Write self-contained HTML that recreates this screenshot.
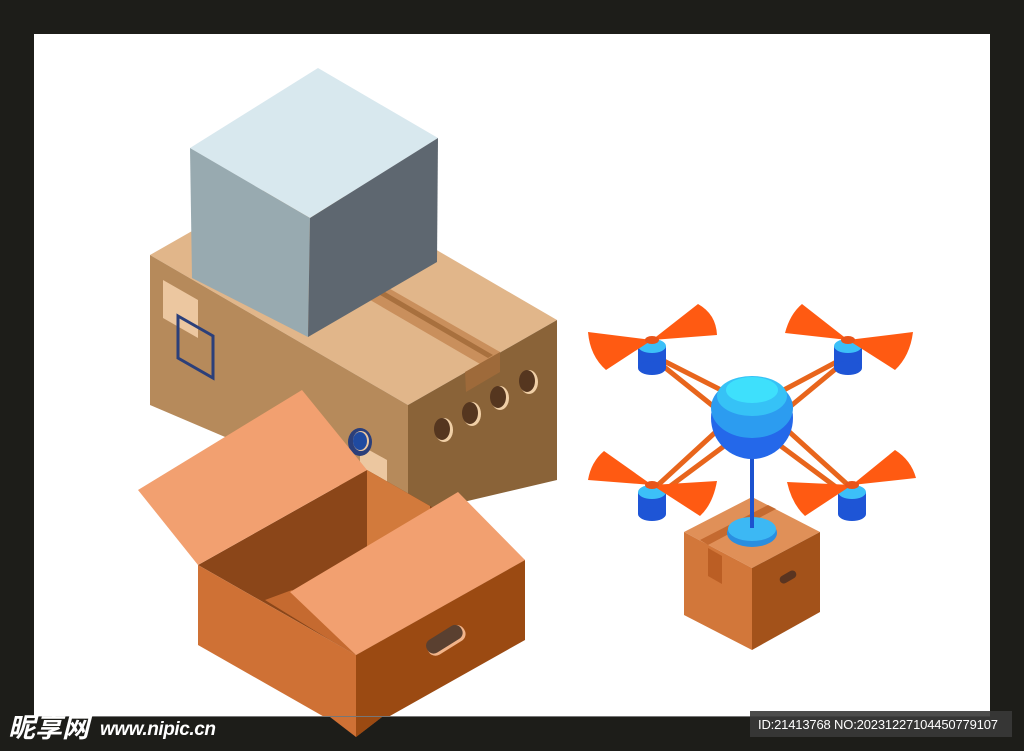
<!DOCTYPE html>
<html><head><meta charset="utf-8"><style>
html,body{margin:0;padding:0;background:#1d1d19;width:1024px;height:751px;overflow:hidden}
svg{display:block}
</style></head><body>
<svg width="1024" height="751" viewBox="0 0 1024 751" xmlns="http://www.w3.org/2000/svg">
<rect x="0" y="0" width="1024" height="751" fill="#1d1d19"/>
<rect x="34" y="34" width="956" height="683" fill="#ffffff"/>

<!-- Brown box -->
<polygon points="150,255 299,170 557,320 408,405" fill="#e1b68a"/>
<polygon points="150,255 408,405 408,515 150,405" fill="#b68a5b"/>
<polygon points="408,405 557,320 557,480 408,515" fill="#8a6338"/>
<polygon points="365,297 385,286 500,352 480,364" fill="#c98f5c"/>
<polygon points="375,292 380,289 493,355 488,358" fill="#a8703e"/>
<polygon points="465,372 500,352 500,372 466,392" fill="#9e6a3a"/>
<polygon points="163,280 198,300 198,338 163,318" fill="#ecc7a0"/>
<polygon points="178,316 213,336 213,378 178,358" fill="none" stroke="#2b3f7a" stroke-width="3"/>
<polygon points="360,445 387,460 387,483 360,468" fill="#ecc7a0"/>
<ellipse cx="360" cy="442" rx="12" ry="14" fill="#2b3f7a"/>
<ellipse cx="361" cy="441" rx="8" ry="10" fill="#ecc7a0"/>
<ellipse cx="360" cy="441" rx="7" ry="9" fill="#1f4aa0"/>
<g>
<ellipse cx="444" cy="430" rx="9" ry="12" fill="#f0cfa6"/><ellipse cx="442" cy="429" rx="8" ry="11" fill="#55361f"/>
<ellipse cx="472" cy="414" rx="9" ry="12" fill="#f0cfa6"/><ellipse cx="470" cy="413" rx="8" ry="11" fill="#55361f"/>
<ellipse cx="500" cy="398" rx="9" ry="12" fill="#f0cfa6"/><ellipse cx="498" cy="397" rx="8" ry="11" fill="#55361f"/>
<ellipse cx="529" cy="382" rx="9" ry="12" fill="#f0cfa6"/><ellipse cx="527" cy="381" rx="8" ry="11" fill="#55361f"/>
</g>

<!-- Gray box -->
<polygon points="190,148 318,68 438,138 310,218" fill="#d8e8ee"/>
<polygon points="190,148 310,218 308,337 192,278" fill="#98aab0"/>
<polygon points="310,218 438,138 437,262 308,337" fill="#5e6770"/>

<!-- Open box -->
<polygon points="198,565 367,470 525,560 356,655" fill="#8b4619"/>
<polygon points="367,470 430,506 430,590 367,552" fill="#d27a3c"/>
<polygon points="138,490 302,390 367,470 198,565" fill="#f2a070"/>
<polygon points="198,565 356,655 356,735 198,645" fill="#cf7135"/>
<polygon points="356,655 525,560 525,640 356,735" fill="#9b4a12"/>
<polygon points="265,600 292,590 356,655 330,640" fill="#c56a30"/>
<polygon points="290,592 458,492 525,560 356,655" fill="#f2a070"/>
<g transform="translate(446,640) rotate(-32)">
<rect x="-21" y="-8" width="42" height="17" rx="8" fill="#f2b48a"/>
<rect x="-21" y="-9" width="40" height="15" rx="7" fill="#5a4030"/>
</g>

<!-- Drone arms -->
<g stroke="#e8651c" stroke-width="5" stroke-linecap="round">
<line x1="658" y1="358" x2="725" y2="392"/><line x1="658" y1="362" x2="718" y2="410"/>
<line x1="844" y1="358" x2="780" y2="392"/><line x1="844" y1="362" x2="786" y2="410"/>
<line x1="658" y1="485" x2="720" y2="428"/><line x1="665" y1="490" x2="735" y2="438"/>
<line x1="848" y1="485" x2="785" y2="428"/><line x1="840" y1="490" x2="770" y2="438"/>
</g>

<!-- Small box -->
<polygon points="684,532 752,497 820,532 752,568" fill="#e09058"/>
<polygon points="684,532 752,568 752,650 684,615" fill="#d2773a"/>
<polygon points="752,568 820,532 820,612 752,650" fill="#a3521a"/>
<polygon points="700,540 768,505 776,509 708,545" fill="#c46a30"/>
<polygon points="708,548 722,556 722,584 708,576" fill="#bb5e24"/>
<g transform="translate(788,577) rotate(-30)"><rect x="-9" y="-4" width="18" height="8" rx="4" fill="#5a3420"/></g>
<ellipse cx="752" cy="533" rx="25" ry="14" fill="#2a8ee0"/>
<ellipse cx="752" cy="529" rx="24" ry="12" fill="#3cb8f4"/>
<line x1="752" y1="440" x2="752" y2="528" stroke="#1c52cf" stroke-width="4"/>

<!-- body -->
<circle cx="752" cy="418" r="41" fill="#2468ea"/>
<ellipse cx="752" cy="408" rx="41" ry="30" fill="#2c9cf0"/>
<ellipse cx="752" cy="396" rx="35" ry="20" fill="#36c2f6"/>
<ellipse cx="752" cy="390" rx="26" ry="13" fill="#3ee0fc"/>

<!-- motors -->
<g>
<g transform="translate(652,346)"><rect x="-14" y="0" width="28" height="22" fill="#1e55d6"/><ellipse cx="0" cy="22" rx="14" ry="7" fill="#1e55d6"/><ellipse cx="0" cy="0" rx="14" ry="7" fill="#3cc0f8"/></g>
<g transform="translate(848,346)"><rect x="-14" y="0" width="28" height="22" fill="#1e55d6"/><ellipse cx="0" cy="22" rx="14" ry="7" fill="#1e55d6"/><ellipse cx="0" cy="0" rx="14" ry="7" fill="#3cc0f8"/></g>
<g transform="translate(652,492)"><rect x="-14" y="0" width="28" height="22" fill="#1e55d6"/><ellipse cx="0" cy="22" rx="14" ry="7" fill="#1e55d6"/><ellipse cx="0" cy="0" rx="14" ry="7" fill="#3cc0f8"/></g>
<g transform="translate(852,492)"><rect x="-14" y="0" width="28" height="22" fill="#1e55d6"/><ellipse cx="0" cy="22" rx="14" ry="7" fill="#1e55d6"/><ellipse cx="0" cy="0" rx="14" ry="7" fill="#3cc0f8"/></g>
</g>

<!-- propellers -->
<g fill="#ff5a12">
<path d="M652,340 L588,332 Q590,356 606,370 Z"/>
<path d="M652,340 L698,304 Q716,314 717,335 Z"/>
<path d="M848,340 L785,333 Q790,314 802,304 Z"/>
<path d="M848,340 L913,332 Q910,356 895,370 Z"/>
<path d="M652,485 L588,480 Q591,462 604,451 Z"/>
<path d="M652,485 L717,481 Q713,504 700,516 Z"/>
<path d="M852,485 L787,482 Q792,504 805,516 Z"/>
<path d="M852,485 L916,478 Q911,460 895,450 Z"/>
</g>
<g fill="#e8541a">
<ellipse cx="652" cy="340" rx="7" ry="4"/><ellipse cx="848" cy="340" rx="7" ry="4"/>
<ellipse cx="652" cy="485" rx="7" ry="4"/><ellipse cx="852" cy="485" rx="7" ry="4"/>
</g>

<!-- watermark bar -->
<rect x="0" y="717" width="1024" height="34" fill="#1d1d19"/>
<rect x="34" y="716" width="956" height="1" fill="#777"/>
<polygon points="330,717 382,717 356,737" fill="#cf7135"/>
<polygon points="356,717 382,717 356,737" fill="#9b4a12"/>
<text x="8" y="737" font-family="'Liberation Sans','Noto Sans CJK SC',sans-serif" font-size="27" font-weight="bold" font-style="italic" fill="#ffffff">昵享网</text>
<text x="100" y="735" font-family="'Liberation Sans',sans-serif" font-size="19" font-weight="bold" font-style="italic" fill="#ffffff" textLength="116">www.nipic.cn</text>
<rect x="750" y="711" width="262" height="26" fill="#3a3a38" opacity="0.9"/>
<text x="758" y="729" font-family="'Liberation Sans',sans-serif" font-size="13" fill="#ffffff" textLength="240">ID:21413768 NO:20231227104450779107</text>
</svg>
</body></html>
